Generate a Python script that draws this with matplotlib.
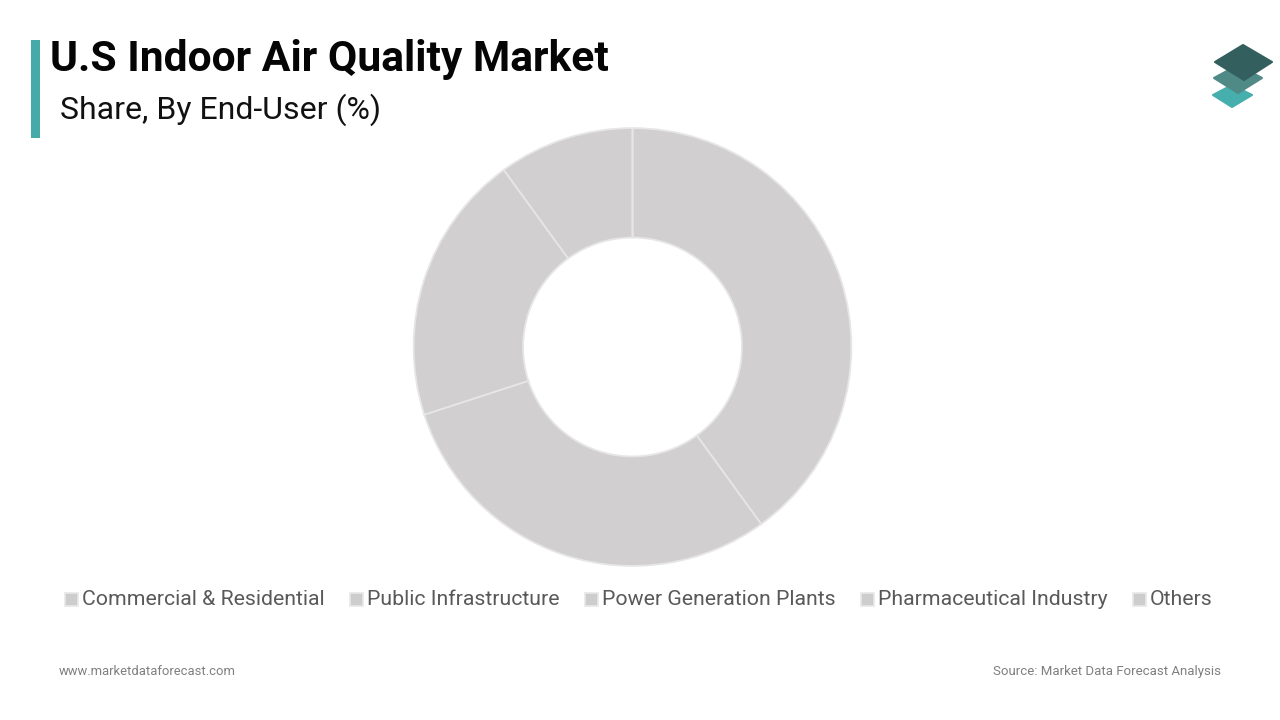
import matplotlib
matplotlib.use('Agg')
import matplotlib.pyplot as plt
from matplotlib.patches import Polygon, Rectangle

plt.rcParams['font.family'] = ['Roboto', 'DejaVu Sans']

# Data
categories = ['Commercial & Residential', 'Public Infrastructure', 'Power Generation Plants',
              'Pharmaceutical Industry', 'Others']
shares = [40, 30, 20, 10, 0]

title = 'U.S Indoor Air Quality Market'
subtitle = 'Share, By End-User (%)'
site = 'www.marketdataforecast.com'
source = 'Source: Market Data Forecast Analysis'

W, H = 1280, 720
fig = plt.figure(figsize=(W / 100, H / 100), dpi=100, facecolor='white')

# full page axes in pixel coords, y goes down
bg = fig.add_axes([0, 0, 1, 1])
bg.set_xlim(0, W)
bg.set_ylim(H, 0)
bg.axis('off')

bg.add_patch(Rectangle((31, 40), 9, 98, color='#46aaa8', lw=0))
bg.text(50, 71, title, fontsize=30.7, fontweight='bold', color='#050505', va='baseline', ha='left')
bg.text(60, 119, subtitle, fontsize=23.05, color='#111111', va='baseline', ha='left')

# logo
for pts, col in [
    ([(1213, 95), (1232, 85), (1252, 95), (1232, 107)], '#46aeac'),
    ([(1214, 78), (1238, 65), (1262, 78), (1238, 93)], '#4f8a87'),
    ([(1215, 62), (1243, 45), (1272, 62), (1244, 80)], '#33605e'),
]:
    bg.add_patch(Polygon(pts, closed=True, facecolor=col, edgecolor=col, lw=1.5, joinstyle='round'))

# donut
cx, cy, r = 632.5, 347, 219
ax = fig.add_axes([(cx - r - 1) / W, 1 - (cy + r + 1) / H, (2 * r + 2) / W, (2 * r + 2) / H])
ax.pie(shares, startangle=90, counterclock=False, radius=1, colors=['#d1cfcf'] * len(shares),
       wedgeprops=dict(width=0.5, edgecolor='#e6e6e6', linewidth=1.3))
ax.set_xlim(-1.005, 1.005)
ax.set_ylim(-1.005, 1.005)

# legend
legend_x = [64, 349, 584, 860, 1132]
for x, label in zip(legend_x, categories):
    bg.add_patch(Rectangle((x + 0.5, 592.5), 13, 13, facecolor='#cdcdcd', edgecolor='#e8e8e8', lw=1.2))
    bg.text(x + 18, 605, label, fontsize=15.35, color='#595959', va='baseline', ha='left')

# footer
bg.text(59, 675, site, fontsize=9.4, color='#7f7f7f', va='baseline', ha='left')
bg.text(1221, 675, source, fontsize=9.5, color='#7f7f7f', va='baseline', ha='right')

fig.savefig('out.png', dpi=100)
